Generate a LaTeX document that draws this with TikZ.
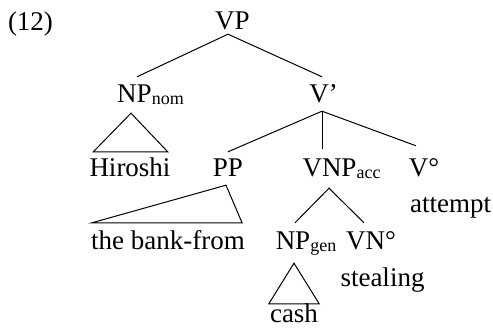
\documentclass[tikz,border=0pt]{standalone}
\usepackage{fontspec}
\setmainfont{Liberation Serif}
\newcommand{\sbs}[1]{\raisebox{-1.2pt}{\fontsize{18}{18}\selectfont #1}}
\begin{document}
\begin{tikzpicture}[x=1pt,y=-1pt,
  lbl/.style={anchor=base,inner sep=0pt,text height=26pt,text depth=8pt,font=\fontsize{27}{32}\selectfont},
  edge/.style={line width=1pt,line join=miter}]
\useasboundingbox (0,0) rectangle (493,328);
% labels
\node[lbl] (ex) at (30.5,31) {(12)};
\node[lbl] (VP) at (232.5,30) {VP};
\node[lbl] (NPnom) at (150.5,103) {NP\sbs{nom}};
\node[lbl] (Vbar) at (323.5,103) {V’};
\node[lbl] (Hiroshi) at (130,177) {Hiroshi};
\node[lbl] (PP) at (228,177) {PP};
\node[lbl] (VNP) at (341.5,177) {VNP\sbs{acc}};
\node[lbl] (V0) at (424,177) {V°};
\node[lbl] (attempt) at (450.5,213) {attempt};
\node[lbl] (bank) at (168,250) {the bank-from};
\node[lbl] (NPgen) at (306,250) {NP\sbs{gen}};
\node[lbl] (VN0) at (371,250) {VN°};
\node[lbl] (stealing) at (382.5,287) {stealing};
\node[lbl,text depth=1pt] (cash) at (294,323) {cash};
% branches
\draw[edge] ([shift={(-13.5,0)}]NPnom.north) -- ([shift={(-4.5,-4)}]VP.south) -- ([shift={(-1.5,0)}]Vbar.north);
\draw[edge] ([shift={(-19.5,2)}]NPnom.south) -- ([shift={(4,1)}]Hiroshi.north west) -- ([shift={(-3,1)}]Hiroshi.north east) -- cycle;
\draw[edge] ([shift={(0,1)}]PP.north) -- ([shift={(-1.5,0)}]Vbar.south) -- ([shift={(-8,-5)}]V0.north);
\draw[edge] ([shift={(-1.5,0)}]Vbar.south) -- ([shift={(-19.5,-2)}]VNP.north);
\draw[edge] ([shift={(-2,0)}]PP.south) -- ([shift={(1,-1)}]bank.north west) -- ([shift={(-3,-1)}]bank.north east) -- cycle;
\draw[edge] ([shift={(-11,-1)}]NPgen.north) -- ([shift={(-12.5,3)}]VNP.south) -- ([shift={(-7,-1)}]VN0.north);
\draw[edge] ([shift={(-12,5)}]NPgen.south) -- ([shift={(-1,7)}]cash.north west) -- ([shift={(1,7)}]cash.north east) -- cycle;
\end{tikzpicture}
\end{document}
